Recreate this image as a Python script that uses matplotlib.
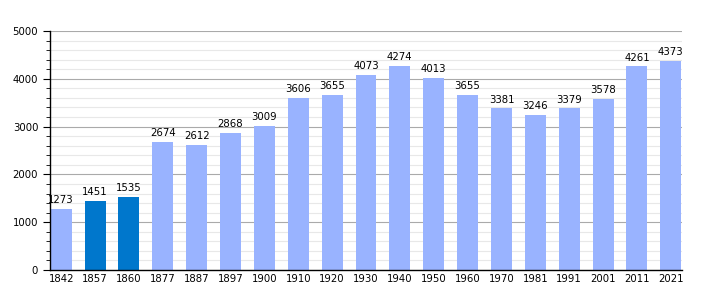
import matplotlib
matplotlib.use("Agg")
import matplotlib.pyplot as plt
from matplotlib.ticker import MultipleLocator

years = ["1842", "1857", "1860", "1877", "1887", "1897", "1900", "1910", "1920", "1930",
         "1940", "1950", "1960", "1970", "1981", "1991", "2001", "2011", "2021"]
population = [1273, 1451, 1535, 2674, 2612, 2868, 3009, 3606, 3655, 4073,
              4274, 4013, 3655, 3381, 3246, 3379, 3578, 4261, 4373]
highlight = ["1857", "1860"]

light = "#99b3ff"
dark = "#0077cc"
colors = [dark if y in highlight else light for y in years]

fig = plt.figure(figsize=(7.1, 3.0), dpi=100)
ax = fig.add_axes([50/710, 30/300, 632/710, 239/300])

x = list(range(len(years)))
ax.bar(x, population, width=0.62, color=colors, zorder=2)
for xi, v in zip(x, population):
    ax.text(xi, v + 80, str(v), ha="center", va="bottom", fontsize=7.3, zorder=3)

ax.set_ylim(0, 5000)
ax.set_xlim(-0.33, 18.33)
ax.yaxis.set_major_locator(MultipleLocator(1000))
ax.yaxis.set_minor_locator(MultipleLocator(200))
ax.grid(which="major", axis="y", color="#aaaaaa", linewidth=0.8, zorder=0)
ax.grid(which="minor", axis="y", color="#e8e8e8", linewidth=0.8, zorder=0)
ax.set_xticks(x)
ax.set_xticklabels(years)
ax.tick_params(axis="x", length=0, labelsize=7.3, pad=3)
ax.tick_params(axis="y", which="major", length=5, labelsize=7.3)
ax.tick_params(axis="y", which="minor", length=3)
for s in ["top", "right"]:
    ax.spines[s].set_visible(False)
ax.spines["left"].set_linewidth(1.0)
ax.spines["bottom"].set_linewidth(1.0)

fig.savefig("out.png", dpi=100)
